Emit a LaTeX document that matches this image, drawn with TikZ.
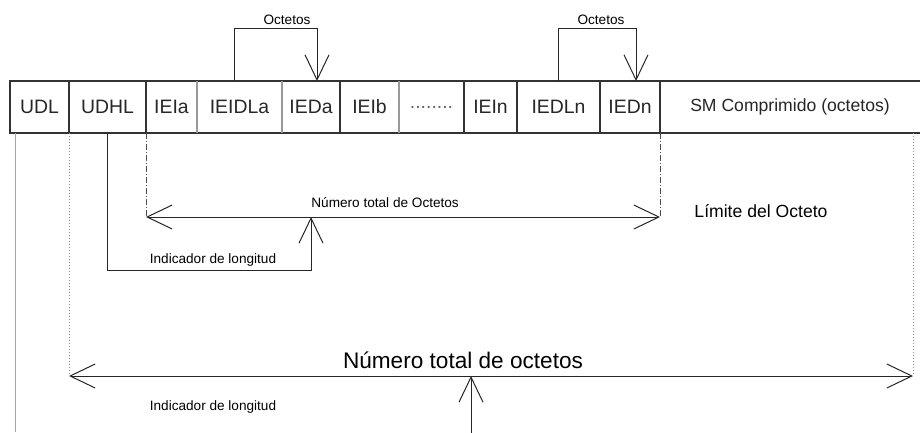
\documentclass[tikz,border=0pt]{standalone}
\usepackage{fontspec}
\setmainfont{Liberation Sans}
\usetikzlibrary{positioning,arrows.meta}

\tikzset{
  >={Straight Barb[length=12.5pt,width=12pt]},
  cell/.style={minimum height=26pt, inner sep=0pt, outer sep=0pt,
    font=\fontsize{9.7}{11}\selectfont, text=black!85},
  frame/.style={line width=0.75pt, black!80},
  thin/.style={line width=0.5pt, black!85},
  guide/.style={line width=0.5pt, densely dashdotted, black!70},
  guidegray/.style={line width=0.5pt, densely dotted, black!45},
  lbl/.style={inner sep=0pt, font=\fontsize{6.8}{8}\selectfont},
  lblmid/.style={inner sep=0pt, font=\fontsize{8.8}{10}\selectfont},
  lblbig/.style={inner sep=0pt, font=\fontsize{11.3}{13}\selectfont}
}

\begin{document}
\begin{tikzpicture}[x=0.5pt,y=-0.5pt]

\useasboundingbox (0,0) rectangle (920,433);

% Felder
\node[cell, minimum width=29.5pt] (udl) at (39.5,107) {UDL};
\node[cell, minimum width=38.5pt, right=0pt of udl] (udhl) {UDHL};
\node[cell, minimum width=25.5pt, right=0pt of udhl] (ieia) {IEIa};
\node[cell, minimum width=42.5pt, right=0pt of ieia] (ieidla) {IEIDLa};
\node[cell, minimum width=29pt, right=0pt of ieidla] (ieda) {IEDa};
\node[cell, minimum width=29.5pt, right=0pt of ieda] (ieib) {IEIb};
\node[cell, minimum width=32.5pt, right=0pt of ieib, text=black!60] (dots) {........};
\node[cell, minimum width=26.5pt, right=0pt of dots] (iein) {IEIn};
\node[cell, minimum width=41.5pt, right=0pt of iein] (iedln) {IEDLn};
\node[cell, minimum width=30pt, right=0pt of iedln] (iedn) {IEDn};
\node[cell, minimum width=130pt, right=0pt of iedn,
      font=\fontsize{8.8}{10}\selectfont] (sm) {SM Comprimido (octetos)};

% Rahmen und Trennlinien
\draw[frame] (sm.north east) -- (udl.north west) -- (udl.south west) -- (sm.south east);
\foreach \c in {udhl,ieia,ieib,iein,iedln,iedn,sm}
  \draw[frame] (\c.north west) -- (\c.south west);
\foreach \c in {ieidla,ieda,dots}
  \draw[frame, black!40] (\c.north west) -- (\c.south west);

% Octetos oben
\draw[thin, ->] ([xshift=-2.5pt]ieidla.north) -- ++(0,-52) -| ([xshift=3pt]ieda.north);
\node[lbl] (octa) at (287,20) {Octetos};
\draw[thin, ->] (iedln.north) -- ++(0,-52) -| ([xshift=3pt]iedn.north);
\node[lbl] (octb) at (601,20) {Octetos};

% Hilfslinien
\draw[line width=0.5pt, black!35] ([xshift=2.5pt]udl.south west) -- ++(0,299);
\coordinate (totL) at (udl.south east |- 0,376);
\coordinate (totR) at (913,376);
\coordinate (numL) at (udhl.south east |- 0,217);
\coordinate (numR) at (iedn.south east |- 0,217);
\draw[guidegray] (udl.south east) -- (totL);
\draw[guidegray] (sm.south east -| totR) -- (totR);
\draw[guide] (udhl.south east) -- (numL);
\draw[guide] (iedn.south east) -- (numR);

% Octetos der Kopfzeile
\draw[thin, <->] (numL) -- (numR);
\coordinate (numM) at (311,217);
\node[lbl, anchor=west] (numlbl) at (311,203) {Número total de Octetos};
\draw[thin, ->] (udhl.south) |- (numM |- 0,270) -- (numM);
\node[lbl] (lena) at (213,260) {Indicador de longitud};

\node[lblmid] (lim) at (761,211) {Límite del Octeto};

% Octetos gesamt
\draw[thin, <->] (totL) -- (totR);
\node[lblbig] (tot) at (463,360) {Número total de octetos};
\coordinate (totM) at (471,376);
\draw[thin, ->] (totM |- 0,433) -- (totM);
\node[lbl] (lenb) at (213,407) {Indicador de longitud};

\end{tikzpicture}
\end{document}
